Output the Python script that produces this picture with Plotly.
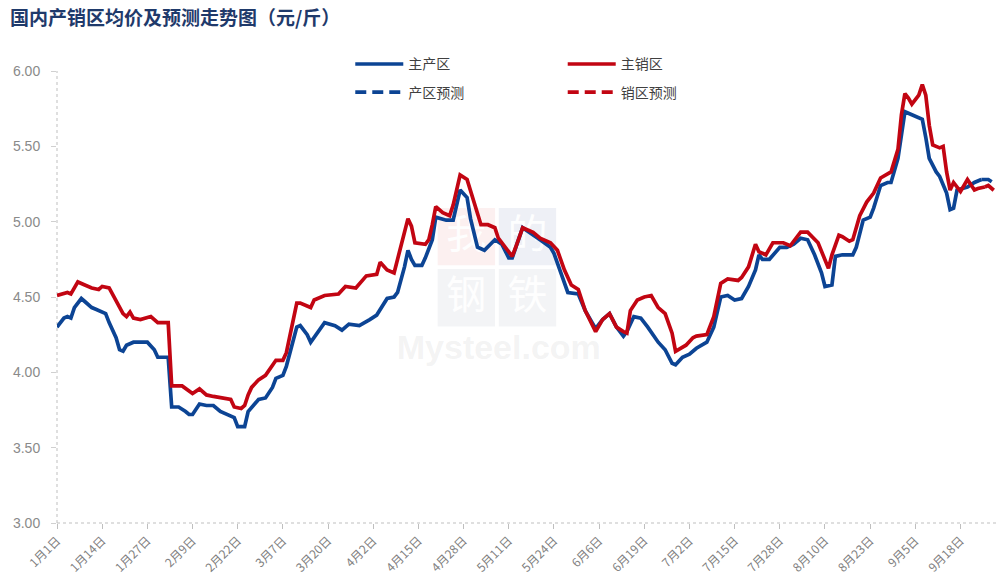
import plotly.graph_objects as go

YEAR = "2023"

# 主产区 (main producing area) - actual
prod_dates = ["01-01","01-03","01-04","01-05","01-06","01-08","01-09","01-11","01-12","01-14",
              "01-15","01-16","01-18","01-19","01-20","01-21","01-23","01-27","01-29","01-30",
              "02-02","02-03","02-05","02-07","02-08","02-09","02-11","02-13","02-15","02-17",
              "02-19","02-21","02-22","02-24","02-25","02-26","02-28","03-02","03-04","03-05",
              "03-07","03-08","03-10","03-11","03-12","03-14","03-15","03-16","03-19","03-22",
              "03-24","03-26","03-29","04-01","04-03","04-06","04-08","04-09","04-11","04-12",
              "04-13","04-14","04-16","04-17","04-19","04-20","04-23","04-25","04-27","04-29",
              "04-30","05-02","05-04","05-07","05-09","05-11","05-12","05-15","05-17","05-20",
              "05-23","05-24","05-26","05-28","05-31","06-02","06-05","06-07","06-09","06-11",
              "06-13","06-14","06-16","06-18","06-20","06-23","06-25","06-27","06-28","06-30",
              "07-02","07-04","07-07","07-09","07-11","07-13","07-15","07-17","07-19","07-21",
              "07-22","07-23","07-25","07-28","07-30","08-01","08-03","08-05","08-07","08-09",
              "08-10","08-12","08-13","08-15","08-18","08-19","08-21","08-23","08-24","08-26",
              "08-28","08-29","08-31","09-01","09-02","09-04","09-06","09-07","09-08","09-09",
              "09-11","09-12","09-14","09-15","09-16","09-17","09-20","09-22","09-24"]
prod_values = [4.30,4.36,4.37,4.36,4.43,4.49,4.47,4.43,4.42,4.40,
               4.39,4.33,4.23,4.15,4.14,4.18,4.20,4.20,4.15,4.10,
               4.10,3.77,3.77,3.74,3.72,3.72,3.79,3.78,3.78,3.74,
               3.72,3.70,3.64,3.64,3.74,3.77,3.82,3.83,3.90,3.96,
               3.98,4.04,4.20,4.30,4.31,4.25,4.20,4.23,4.33,4.31,
               4.28,4.32,4.31,4.35,4.38,4.49,4.50,4.53,4.70,4.81,
               4.75,4.71,4.71,4.76,4.88,5.03,5.01,5.01,5.21,5.16,
               5.02,4.83,4.81,4.88,4.85,4.76,4.76,4.96,4.93,4.88,
               4.83,4.79,4.66,4.53,4.52,4.41,4.29,4.35,4.39,4.30,
               4.24,4.27,4.37,4.36,4.30,4.20,4.15,4.06,4.05,4.10,
               4.12,4.16,4.20,4.30,4.50,4.51,4.48,4.49,4.57,4.68,
               4.78,4.75,4.75,4.83,4.83,4.85,4.89,4.88,4.78,4.66,
               4.57,4.58,4.77,4.78,4.78,4.83,5.01,5.03,5.09,5.24,
               5.26,5.26,5.42,5.59,5.73,5.71,5.69,5.68,5.56,5.42,
               5.33,5.30,5.19,5.08,5.09,5.21,5.23,5.26,5.28]

# 主销区 (main consuming area) - actual
sale_dates = ["01-01","01-03","01-04","01-05","01-07","01-09","01-11","01-13","01-14","01-16",
              "01-18","01-20","01-21","01-22","01-23","01-25","01-28","01-30","02-02","02-03",
              "02-06","02-08","02-09","02-11","02-13","02-15","02-17","02-20","02-21","02-23",
              "02-24","02-25","02-26","02-28","03-02","03-04","03-05","03-07","03-08","03-11",
              "03-12","03-15","03-16","03-19","03-23","03-25","03-28","03-31","04-03","04-04",
              "04-06","04-08","04-10","04-12","04-13","04-14","04-17","04-18","04-19","04-20",
              "04-22","04-24","04-25","04-27","04-29","05-01","05-03","05-05","05-07","05-08",
              "05-10","05-12","05-13","05-15","05-18","05-20","05-23","05-25","05-27","05-29",
              "05-31","06-02","06-05","06-07","06-09","06-11","06-13","06-14","06-15","06-17",
              "06-19","06-21","06-23","06-25","06-27","06-28","07-01","07-03","07-04","07-07",
              "07-09","07-11","07-13","07-16","07-17","07-19","07-21","07-22","07-24","07-26",
              "07-29","07-31","08-03","08-05","08-08","08-10","08-11","08-12","08-14","08-15",
              "08-17","08-18","08-20","08-22","08-24","08-26","08-28","08-29","08-31","09-01",
              "09-02","09-03","09-04","09-06","09-07","09-08","09-09","09-10","09-12","09-13",
              "09-14","09-15","09-16","09-18","09-20","09-22","09-23","09-25"]
sale_values = [4.51,4.52,4.53,4.52,4.60,4.58,4.56,4.55,4.57,4.56,
               4.48,4.39,4.37,4.40,4.36,4.35,4.37,4.33,4.33,3.91,
               3.91,3.88,3.86,3.89,3.85,3.84,3.83,3.82,3.77,3.76,
               3.78,3.85,3.90,3.95,3.98,4.04,4.08,4.08,4.13,4.46,
               4.46,4.43,4.48,4.51,4.52,4.57,4.56,4.64,4.65,4.73,
               4.68,4.66,4.83,5.02,4.97,4.86,4.85,4.88,4.98,5.10,
               5.06,5.04,5.11,5.31,5.28,5.12,4.98,4.98,4.96,4.89,
               4.83,4.77,4.83,4.96,4.93,4.89,4.86,4.81,4.68,4.58,
               4.55,4.41,4.27,4.35,4.39,4.30,4.27,4.26,4.41,4.48,
               4.50,4.51,4.43,4.39,4.26,4.14,4.18,4.23,4.24,4.25,
               4.37,4.59,4.62,4.61,4.63,4.70,4.85,4.80,4.78,4.86,
               4.86,4.84,4.93,4.93,4.86,4.75,4.69,4.78,4.91,4.90,
               4.87,4.88,5.04,5.13,5.19,5.29,5.32,5.33,5.48,5.71,
               5.85,5.82,5.78,5.84,5.91,5.84,5.64,5.51,5.49,5.50,
               5.33,5.21,5.26,5.20,5.28,5.21,5.22,5.23]

# forecasts
prod_fc_dates = ["09-24", "09-26", "09-28"]
prod_fc_values = [5.28, 5.28, 5.25]
sale_fc_dates = ["09-25", "09-26", "09-28"]
sale_fc_values = [5.23, 5.24, 5.20]

tick_dates = ["01-01","01-14","01-27","02-09","02-22","03-07","03-20","04-02","04-15","04-28",
              "05-11","05-24","06-06","06-19","07-02","07-15","07-28","08-10","08-23","09-05","09-18"]
tick_labels = ["1月1日","1月14日","1月27日","2月9日","2月22日","3月7日","3月20日","4月2日",
               "4月15日","4月28日","5月11日","5月24日","6月6日","6月19日","7月2日","7月15日",
               "7月28日","8月10日","8月23日","9月5日","9月18日"]

def full(ds):
    return [f"{YEAR}-{d}" for d in ds]

BLUE = "#0c4494"
RED = "#c20512"
LW = 3.7
CJK = "Noto Sans CJK SC"

fig = go.Figure()
fig.add_trace(go.Scatter(x=full(prod_dates), y=prod_values, mode="lines", name="主产区",
                         line=dict(color=BLUE, width=LW), legend="legend", legendgroup="a"))
fig.add_trace(go.Scatter(x=full(prod_fc_dates), y=prod_fc_values, mode="lines", name="产区预测",
                         line=dict(color=BLUE, width=LW, dash="11px,6px"), legend="legend", legendgroup="b"))
fig.add_trace(go.Scatter(x=full(sale_dates), y=sale_values, mode="lines", name="主销区",
                         line=dict(color=RED, width=LW), legend="legend2", legendgroup="c"))
fig.add_trace(go.Scatter(x=full(sale_fc_dates), y=sale_fc_values, mode="lines", name="销区预测",
                         line=dict(color=RED, width=LW, dash="11px,6px"), legend="legend2", legendgroup="d"))

legend_common = dict(orientation="v", yanchor="top", xanchor="left", y=1.05,
                     bgcolor="rgba(0,0,0,0)", font=dict(family=CJK, size=14, color="#404040"),
                     tracegroupgap=7, itemwidth=48)

# watermark tiles (decorative, drawn below the data, labels included)
tiles = [("我", 0.405, 0.57, "rgba(225,120,120,0.11)"), ("的", 0.470, 0.57, "rgba(90,110,170,0.10)"),
         ("钢", 0.405, 0.435, "rgba(120,130,160,0.09)"), ("铁", 0.470, 0.435, "rgba(120,130,160,0.09)")]
tile_shapes = [dict(type="rect", xref="paper", yref="paper", x0=x0, x1=x0 + 0.061,
                    y0=y0, y1=y0 + 0.127, fillcolor=col, line=dict(width=0), layer="below",
                    label=dict(text=ch, font=dict(family=CJK, size=40, color="rgba(255,255,255,0.95)"),
                               textposition="middle center"))
               for ch, x0, y0, col in tiles]
tile_shapes.append(dict(type="rect", xref="paper", yref="paper", x0=0.33, x1=0.61, y0=0.35, y1=0.44,
                        fillcolor="rgba(0,0,0,0)", line=dict(width=0), layer="below",
                        label=dict(text="<b>Mysteel.com</b>", textposition="middle center",
                                   font=dict(family="Liberation Sans", size=34,
                                             color="rgba(170,170,170,0.15)"))))

fig.update_layout(
    width=997, height=588,
    margin=dict(l=57, r=0, t=71, b=65),
    paper_bgcolor="white", plot_bgcolor="white",
    title=dict(text="<b>国内产销区均价及预测走势图（元/斤）</b>", x=0.01, xanchor="left",
               y=0.968, yanchor="middle",
               font=dict(family=CJK, size=19, color="#1f3a6b")),
    legend=dict(x=0.312, **legend_common),
    legend2=dict(x=0.538, **legend_common),
    showlegend=True,
    xaxis=dict(type="date", range=[f"{YEAR}-01-01", f"{YEAR}-09-28 12:00"],
               tickmode="array", tickvals=full(tick_dates), ticktext=tick_labels,
               tickangle=-45, ticks="outside", ticklen=5, tickcolor="#bfbfbf",
               tickfont=dict(family=CJK, size=12, color="#7f7f7f"),
               showgrid=False, showline=False, zeroline=False),
    yaxis=dict(range=[3, 6], tickmode="array", tickvals=[3, 3.5, 4, 4.5, 5, 5.5, 6],
               tickformat=".2f", ticks="outside", ticklen=5, tickcolor="#d0d0d0",
               ticklabelstandoff=8,
               tickfont=dict(family="Liberation Sans", size=14, color="#8a8a8a"),
               showgrid=False, showline=False, zeroline=False),
    shapes=[
        dict(type="line", xref="paper", yref="paper", x0=0, x1=1, y0=0, y1=0,
             line=dict(color="#bfbfbf", width=1, dash="dot"), layer="below"),
        dict(type="line", xref="paper", yref="paper", x0=0, x1=0, y0=0, y1=1,
             line=dict(color="#bfbfbf", width=1, dash="dot"), layer="below"),
    ] + tile_shapes,
)

fig.write_html("out.html", config={"displayModeBar": False},
               post_script="document.body.style.margin='0';document.body.style.padding='0';")
